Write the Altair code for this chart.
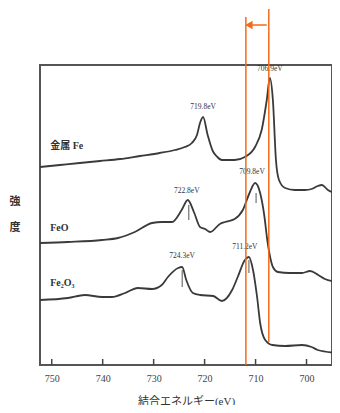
import altair as alt
import pandas as pd

# ---- data (binding energy in eV, intensity in arbitrary units) ----
fe_metal_ev = [752.3, 748.4, 744.5, 740.5, 736.6, 732.7, 728.8, 725.8, 723.9, 722.5, 721.5, 720.9,
               720.3, 719.4, 718.4, 717.5, 716.6, 714.1, 712.1, 710.1, 708.8, 707.8, 707.2, 706.6,
               706.0, 705.4, 704.2, 702.3, 700.3, 699.0, 697.8, 697.0, 695.8, 693.7]
fe_metal_val = [198, 200, 202, 204, 206, 209, 212, 215, 218, 222, 230, 242,
                248, 230, 214, 208, 205, 205, 208, 218, 235, 265, 287, 265,
                205, 185, 177, 175, 175, 176, 179, 180, 175, 171]

feo_ev = [752.3, 746.8, 740.1, 737.0, 733.7, 730.3, 728.4, 726.4, 724.5, 723.3, 722.1, 720.9,
          719.9, 718.9, 717.0, 716.0, 714.1, 712.5, 711.1, 710.1, 709.1, 708.3, 707.7, 707.1,
          706.6, 705.6, 703.3, 700.9, 699.3, 697.7, 696.4, 693.9]
feo_val = [122, 123, 125, 127, 133, 142, 143, 143, 155, 165, 153, 138,
           136, 133, 141, 143, 146, 155, 173, 182, 172, 150, 125, 107,
           98, 93, 92, 92, 94, 90, 86, 83]

fe2o3_ev = [752.3, 746.8, 743.5, 740.1, 738.2, 735.6, 733.1, 730.3, 728.4, 727.2, 725.2, 724.4,
            723.6, 722.3, 720.9, 718.3, 716.6, 714.6, 713.5, 712.1, 711.3, 710.5, 709.7, 709.1,
            708.1, 706.7, 704.2, 700.9, 699.0, 697.8, 693.9]
fe2o3_val = [65, 67, 70, 68, 68, 72, 77, 76, 80, 88, 97, 98,
             85, 72, 70, 69, 64, 75, 88, 105, 108, 95, 68, 42,
             25, 20, 19, 20, 18, 15, 12]

series_names = ["金属 Fe", "FeO", "Fe₂O₃"]
series_label_ev = [750.3, 750.3, 750.3]
series_label_val = [219, 137, 82]

peak_labels = ["706.9eV", "719.8eV", "722.8eV", "709.8eV", "711.2eV", "724.3eV"]
peak_label_ev = [707.2, 720.3, 723.5, 710.7, 712.1, 724.4]
peak_label_val = [296, 258, 174, 193, 118, 109]

marker_ev = [723.1, 709.9, 724.4, 711.3]
marker_top = [160, 172, 95, 105]
marker_bot = [145, 162, 78, 92]

x_ticks = [750, 740, 730, 720, 710, 700]

shift_ev = [711.9, 707.4]
shift_bottom = [0, 23]
shift_top = [348, 356]
arrow_from = 707.8
arrow_to = 711.6
arrow_val = 340

y_title_chars = ["強", "度"]
y_title_ev = [757.2, 757.2]
y_title_val = [163, 137]

# ---- tables ----
rows = []
for name, evs, vals in [("金属 Fe", fe_metal_ev, fe_metal_val),
                        ("FeO", feo_ev, feo_val),
                        ("Fe₂O₃", fe2o3_ev, fe2o3_val)]:
    for i, (e, v) in enumerate(zip(evs, vals)):
        rows.append({"series": name, "ev": e, "val": v, "order": i})
curves = pd.DataFrame(rows)

series_df = pd.DataFrame({"name": series_names, "ev": series_label_ev, "val": series_label_val})
peaks_df = pd.DataFrame({"label": peak_labels, "ev": peak_label_ev, "val": peak_label_val})
markers_df = pd.DataFrame({"ev": marker_ev, "top": marker_top, "bot": marker_bot})
ticks_df = pd.DataFrame({"ev": x_ticks, "y0": [0] * len(x_ticks), "y1": [6] * len(x_ticks)})
shift_df = pd.DataFrame({"ev": shift_ev, "y0": shift_bottom, "y1": shift_top})
arrow_df = pd.DataFrame({"ev": [arrow_to], "ev2": [arrow_from], "val": [arrow_val]})
head_df = pd.DataFrame({"ev": [arrow_to - 0.3], "val": [arrow_val]})
ytitle_df = pd.DataFrame({"ch": y_title_chars, "ev": y_title_ev, "val": y_title_val})

SERIF = "Liberation Serif, Noto Sans CJK JP"
INK = "#3a3a3a"
ORANGE = "#f26a1b"

xscale = alt.Scale(domain=[695.0, 752.3], reverse=True, nice=False, zero=False)
yscale = alt.Scale(domain=[0, 300], nice=False, zero=False)

X = alt.X("ev:Q", scale=xscale,
          axis=alt.Axis(values=x_ticks, ticks=False, domain=False, grid=False,
                        labelFont=SERIF, labelFontSize=10, labelColor="#444",
                        labelPadding=8, title="結合エネルギー(eV)",
                        titleFont=SERIF, titleFontSize=11, titleFontWeight="normal",
                        titleColor="#333", titlePadding=12))
Y = alt.Y("val:Q", scale=yscale, axis=None)

lines = alt.Chart(curves).mark_line(color=INK, strokeWidth=1.8, interpolate="monotone",
                                    clip=True).encode(
    x=X, y=Y, detail="series:N", order="order:Q")

series_text = alt.Chart(series_df).mark_text(
    align="left", baseline="middle", font=SERIF, fontSize=10, fontWeight="bold", color="#333"
).encode(x=alt.X("ev:Q", scale=xscale), y=alt.Y("val:Q", scale=yscale), text="name:N")

peak_text = alt.Chart(peaks_df).mark_text(
    align="center", baseline="middle", font=SERIF, fontSize=7.5, color="#333"
).encode(x=alt.X("ev:Q", scale=xscale), y=alt.Y("val:Q", scale=yscale), text="label:N")

marker_rules = alt.Chart(markers_df).mark_rule(color="#555", strokeWidth=1).encode(
    x=alt.X("ev:Q", scale=xscale), y=alt.Y("bot:Q", scale=yscale), y2="top:Q")

tick_rules = alt.Chart(ticks_df).mark_rule(color="#444", strokeWidth=1.5).encode(
    x=alt.X("ev:Q", scale=xscale), y=alt.Y("y0:Q", scale=yscale), y2="y1:Q")

shift_rules = alt.Chart(shift_df).mark_rule(color=ORANGE, strokeWidth=1.5).encode(
    x=alt.X("ev:Q", scale=xscale), y=alt.Y("y0:Q", scale=yscale), y2="y1:Q")

arrow_line = alt.Chart(arrow_df).mark_rule(color=ORANGE, strokeWidth=1.5).encode(
    x=alt.X("ev:Q", scale=xscale), x2="ev2:Q", y=alt.Y("val:Q", scale=yscale))

arrow_head = alt.Chart(head_df).mark_point(
    shape="triangle-left", filled=True, color=ORANGE, size=70, opacity=1
).encode(x=alt.X("ev:Q", scale=xscale), y=alt.Y("val:Q", scale=yscale))

ytitle = alt.Chart(ytitle_df).mark_text(
    align="center", baseline="middle", font=SERIF, fontSize=11, fontWeight="bold", color="#333"
).encode(x=alt.X("ev:Q", scale=xscale), y=alt.Y("val:Q", scale=yscale), text="ch:N")

chart = alt.layer(
    lines, marker_rules, tick_rules, series_text, peak_text,
    shift_rules, arrow_line, arrow_head, ytitle
).properties(
    width=292, height=300,
    autosize=alt.AutoSizeParams(type="none"),
    padding={"left": 32, "top": 57, "right": 0, "bottom": 40},
).configure(
    background="white",
    view=alt.ViewConfig(stroke="#555", strokeWidth=2),
)

chart.save("out.html", embed_options={"renderer": "svg", "actions": False})
